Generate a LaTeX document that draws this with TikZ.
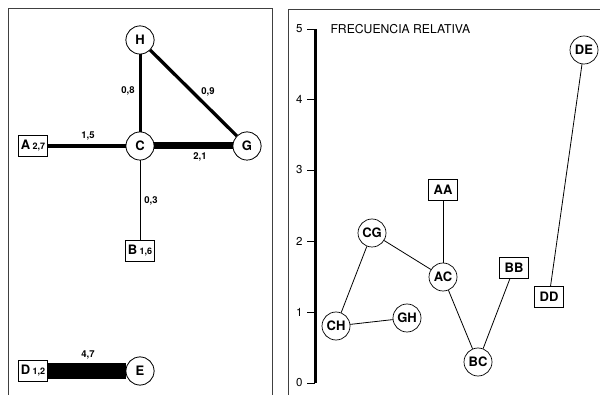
\documentclass[tikz,border=0pt]{standalone}
\usepackage{fontspec}
\setmainfont{TeX Gyre Heros}
\begin{document}
\begin{tikzpicture}[x=1pt,y=-1pt,
  cnode/.style={circle,draw,fill=white,line width=0.7pt,minimum size=28pt,inner sep=0pt,font=\bfseries\fontsize{13}{13}\selectfont},
  bnode/.style={rectangle,draw,fill=white,line width=0.7pt,minimum height=21pt,minimum width=29pt,inner sep=1pt,font=\bfseries\fontsize{13}{13}\selectfont},
  elabel/.style={font=\bfseries\fontsize{9.5}{9.5}\selectfont},
  frame/.style={line width=0.8pt,draw=black!75},
  tick/.style={font=\fontsize{11.5}{11.5}\selectfont,anchor=east}]
\useasboundingbox (0,0) rectangle (600,395);
% frames
\draw[frame] (8,395) -- (8,8) -- (272,8) -- (272,395);
\draw[frame] (288,395) -- (288,9) -- (605,9);
% left graph nodes
\node[cnode] (H) at (140,40) {H};
\node[cnode] (C) at (140,146) {C};
\node[cnode] (G) at (247,146) {G};
\node[bnode] (A) at (33,146) {A\,{\fontsize{9}{9}\selectfont 2,7}};
\node[bnode] (B) at (140,251) {B\,{\fontsize{9}{9}\selectfont 1,6}};
\node[bnode] (D) at (33,371) {D\,{\fontsize{9}{9}\selectfont 1,2}};
\node[cnode] (E) at (140,371) {E};
% left edges
\draw[line width=3pt] (H) -- (C);
\draw[line width=3.3pt] (H) -- (G);
\draw[line width=4.5pt] (A) -- (C);
\draw[line width=7pt] (C) -- (G);
\draw[line width=0.7pt] (C) -- (B);
\draw[line width=16pt] (D) -- (E);
\node[cnode] at (H) {H};
\node[cnode] at (C) {C};
\node[cnode] at (G) {G};
\node[cnode] at (E) {E};
\node[bnode] at (A) {A\,{\fontsize{9}{9}\selectfont 2,7}};
\node[bnode] at (B) {B\,{\fontsize{9}{9}\selectfont 1,6}};
\node[bnode] at (D) {D\,{\fontsize{9}{9}\selectfont 1,2}};
% edge labels
\node[elabel] (l15) at (88,136) {1,5};
\node[elabel] (l21) at (200,157) {2,1};
\node[elabel] (l08) at (128,91) {0,8};
\node[elabel] (l09) at (208,92) {0,9};
\node[elabel] (l03) at (151,201) {0,3};
\node[elabel] (l47) at (88,355) {4,7};
% axis
\coordinate (ax0) at (315,383);
\coordinate (ax5) at (315,29);
\draw[line width=3pt] (ax0) -- (ax5);
\foreach \v/\yy in {0/383,1/312,2/241,3/170,4/99,5/29}{
  \draw[line width=0.7pt] (307,\yy) -- (315,\yy);
  \node[tick] at (306,\yy) {\v};
}
\node[font=\fontsize{12.2}{12.2}\selectfont,anchor=west] (title) at (327,29) {FRECUENCIA RELATIVA};
% right nodes
\node[cnode] (DE) at (584,50) {DE};
\node[bnode] (AA) at (443,190) {AA};
\node[cnode] (CG) at (372,233) {CG};
\node[cnode] (AC) at (443,277) {AC};
\node[bnode] (BB) at (514,268) {BB};
\node[bnode] (DD) at (549,297) {DD};
\node[cnode] (CH) at (336,326) {CH};
\node[cnode] (GH) at (407,318) {GH};
\node[cnode] (BC) at (478,362) {BC};
\draw[line width=0.8pt] (CH) -- (CG);
\draw[line width=0.8pt] (CG) -- (AC);
\draw[line width=0.8pt] (CH) -- (GH);
\draw[line width=0.8pt] (AA) -- (AC);
\draw[line width=0.8pt] (AC) -- (BC);
\draw[line width=0.8pt] (BC) -- (BB);
\draw[line width=0.8pt] (DD) -- (DE);
\end{tikzpicture}
\end{document}
